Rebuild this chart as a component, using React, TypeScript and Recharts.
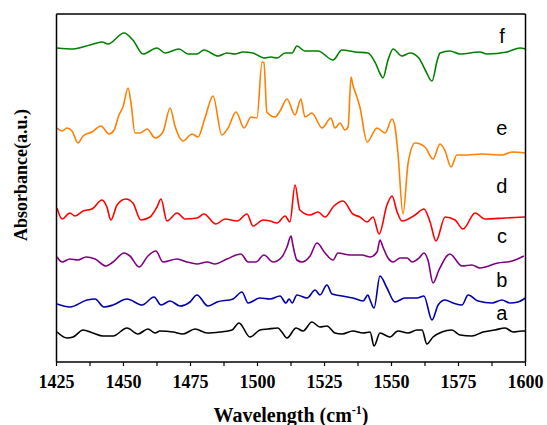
import { LineChart, Line, XAxis, YAxis } from 'recharts'

// wavelength (cm-1), absorbance (a.u., stacked offsets)
const specA = [
  [1425.2, 30], [1428.9, 24], [1431.2, 25], [1434.9, 32], [1438.6, 29], [1442.4, 26],
  [1446.1, 26], [1451.3, 34], [1455.4, 28], [1459.1, 33], [1461.8, 29], [1463.6, 31],
  [1468.5, 30], [1472.2, 28], [1476.7, 33], [1481.2, 29], [1486.0, 30], [1490.5, 32],
  [1493.1, 39], [1497.2, 25], [1500.9, 32], [1503.9, 33], [1507.6, 34], [1509.1, 30],
  [1511.0, 24], [1514.4, 34], [1517.0, 31], [1520.3, 40], [1523.3, 35], [1525.9, 36],
  [1528.9, 29], [1531.5, 28], [1535.6, 31], [1539.4, 29], [1542.0, 30], [1543.5, 16],
  [1545.7, 29], [1549.4, 25], [1552.4, 31], [1556.2, 29], [1559.5, 32], [1561.4, 32],
  [1563.2, 18], [1565.5, 25], [1568.8, 30], [1572.5, 32], [1575.6, 27], [1580.0, 26],
  [1584.1, 30], [1588.6, 32], [1592.4, 34], [1595.4, 30], [1598.7, 31], [1600, 31]
]

const specB = [
  [1425.2, 58], [1430.0, 55], [1436.4, 62], [1439.4, 63], [1442.7, 55], [1446.1, 57],
  [1451.3, 63], [1456.9, 57], [1461.4, 65], [1464.0, 57], [1467.4, 61], [1471.1, 56],
  [1474.8, 60], [1477.4, 67], [1481.5, 56], [1484.9, 60], [1490.9, 63], [1494.2, 70],
  [1496.5, 59], [1500.9, 64], [1504.7, 63], [1508.4, 66], [1510.6, 59], [1511.8, 63],
  [1512.9, 59], [1514.7, 67], [1518.5, 64], [1521.5, 72], [1523.3, 67], [1525.9, 77],
  [1527.8, 68], [1531.5, 66], [1535.6, 64], [1539.4, 61], [1541.2, 67], [1542.0, 62],
  [1543.5, 54], [1545.7, 86], [1548.3, 74], [1551.3, 60], [1555.0, 64], [1559.5, 64],
  [1562.1, 66], [1565.1, 42], [1567.4, 57], [1570.0, 62], [1573.0, 59], [1576.3, 57],
  [1578.6, 67], [1582.3, 61], [1587.5, 59], [1591.2, 62], [1594.2, 59], [1597.2, 60],
  [1600, 64]
]

const specC = [
  [1425.2, 105], [1427.1, 100], [1430.0, 103], [1433.0, 102], [1436.0, 105], [1439.4, 103],
  [1443.5, 96], [1446.1, 100], [1450.2, 109], [1452.4, 106], [1455.8, 95], [1459.1, 106],
  [1462.1, 111], [1464.7, 100], [1470.0, 103], [1473.7, 100], [1477.4, 98], [1481.2, 100],
  [1484.1, 98], [1488.6, 103], [1493.8, 108], [1496.5, 100], [1499.4, 100], [1502.4, 107],
  [1505.8, 100], [1509.1, 105], [1511.0, 115], [1512.5, 126], [1513.2, 117], [1514.7, 102],
  [1516.6, 100], [1519.6, 106], [1522.2, 119], [1525.2, 109], [1528.2, 102], [1530.0, 109],
  [1534.5, 107], [1539.0, 107], [1542.0, 105], [1544.6, 110], [1545.7, 122], [1546.8, 115],
  [1548.7, 104], [1550.6, 100], [1553.2, 104], [1555.8, 104], [1557.7, 100], [1560.3, 104],
  [1562.1, 109], [1563.6, 102], [1565.5, 79], [1567.7, 92], [1571.8, 108], [1576.3, 96],
  [1580.0, 97], [1583.0, 94], [1589.7, 99], [1595.0, 101], [1599.4, 106]
]

const specD = [
  [1425.2, 154], [1427.1, 143], [1430.0, 149], [1431.9, 146], [1434.9, 151], [1438.2, 153],
  [1442.0, 162], [1443.8, 155], [1445.3, 142], [1447.6, 157], [1450.9, 163], [1453.5, 159],
  [1456.5, 142], [1459.9, 145], [1462.5, 155], [1464.0, 163], [1466.2, 141], [1470.0, 149],
  [1473.0, 143], [1477.4, 144], [1480.0, 148], [1484.5, 138], [1487.9, 143], [1492.4, 141],
  [1496.1, 148], [1498.3, 136], [1502.1, 142], [1504.7, 141], [1507.3, 139], [1510.3, 146],
  [1512.1, 140], [1514.0, 177], [1515.8, 152], [1519.6, 147], [1522.6, 150], [1525.2, 145],
  [1528.5, 156], [1531.9, 161], [1535.6, 148], [1538.2, 145], [1540.9, 140], [1543.1, 145],
  [1545.4, 128], [1548.3, 157], [1550.2, 166], [1552.1, 150], [1553.9, 141], [1558.8, 147],
  [1562.1, 153], [1564.4, 140], [1566.6, 121], [1570.0, 145], [1573.7, 142], [1576.7, 133],
  [1581.2, 149], [1584.9, 143], [1592.4, 144], [1599.8, 145]
]

const specE = [
  [1425.2, 234], [1427.1, 231], [1428.9, 234], [1430.8, 231], [1433.0, 219], [1434.9, 226],
  [1438.2, 230], [1441.6, 236], [1444.6, 228], [1446.5, 232], [1448.3, 247], [1449.8, 255],
  [1451.7, 274], [1452.8, 259], [1454.3, 229], [1456.2, 229], [1458.8, 233], [1461.8, 224],
  [1464.7, 230], [1467.4, 254], [1469.2, 236], [1472.2, 221], [1475.6, 228], [1477.8, 225],
  [1480.4, 244], [1483.4, 266], [1486.7, 227], [1489.0, 234], [1492.0, 250], [1495.0, 234],
  [1497.6, 245], [1499.8, 244], [1501.7, 300], [1502.4, 299], [1503.5, 250], [1506.5, 245],
  [1508.4, 251], [1511.0, 263], [1514.0, 247], [1516.2, 263], [1517.7, 245], [1520.3, 249],
  [1524.1, 234], [1527.4, 244], [1528.9, 234], [1530.8, 239], [1532.6, 232], [1533.8, 235],
  [1534.9, 285], [1535.6, 277], [1537.1, 265], [1538.2, 255], [1540.9, 220], [1544.6, 234],
  [1547.6, 229], [1550.2, 243], [1551.3, 235], [1552.4, 209], [1554.3, 148], [1556.2, 199],
  [1558.8, 219], [1562.5, 215], [1565.5, 203], [1568.1, 218], [1570.0, 211], [1572.2, 195],
  [1574.4, 207], [1577.4, 207], [1583.8, 208], [1591.2, 207], [1595.0, 210], [1600, 209]
]

const specF = [
  [1425.2, 314], [1431.2, 313], [1437.5, 317], [1442.0, 320], [1444.2, 318], [1450.2, 329],
  [1453.5, 322], [1457.3, 308], [1462.5, 314], [1465.5, 309], [1470.7, 313], [1474.1, 308],
  [1477.4, 308], [1480.0, 312], [1485.3, 306], [1488.6, 309], [1491.6, 308], [1494.6, 310],
  [1498.3, 309], [1502.4, 304], [1505.0, 305], [1507.3, 304], [1510.3, 309], [1512.9, 309],
  [1514.7, 316], [1517.7, 311], [1522.6, 311], [1528.2, 302], [1531.5, 312], [1536.4, 310],
  [1541.2, 309], [1544.0, 299], [1545.8, 288], [1546.8, 284], [1548.7, 302], [1550.6, 313],
  [1553.9, 306], [1556.9, 309], [1560.2, 304], [1562.6, 292], [1565.1, 281], [1567.1, 302],
  [1568.1, 309], [1571.8, 311], [1575.6, 308], [1583.0, 310], [1585.6, 308], [1593.1, 310],
  [1598.0, 314], [1600, 313]
]

const seriesNames = ['a', 'b', 'c', 'd', 'e', 'f']
const seriesColors = ['#000000', '#0000a8', '#800080', '#ff0000', '#ff8000', '#008000']
const allSpectra = [specA, specB, specC, specD, specE, specF]

// label baselines next to each curve (absorbance units)
const labelLevels = [42, 75, 119, 169, 227, 319]

const xTicks = [
  1425, 1437.5, 1450, 1462.5, 1475, 1487.5, 1500, 1512.5, 1525, 1537.5, 1550, 1562.5,
  1575, 1587.5, 1600
]
const yTicks = Array.from({ length: 35 }, (_, i) => 348 - i * 10.2)

const W = 547
const H = 425
const plotLeft = 56.5
const plotRight = 525.5
const plotTop = 14
const plotBottom = 362

const serif = '"Times New Roman", "Liberation Serif", Times, "DejaVu Serif", serif'
const frame = { stroke: '#000', strokeWidth: 1.5 }
const tickStroke = { stroke: '#000', strokeWidth: 1.2 }

export default function App() {
  const toPx = (v: number) => plotBottom - ((plotBottom - plotTop) * v) / 348
  const xPx = (w: number) =>
    plotLeft + ((plotRight - plotLeft) * (w - 1425)) / 175

  return (
    <div style={{ position: 'absolute', left: 0, top: 0, width: W, height: H, background: '#fff' }}>
      <LineChart
        width={W}
        height={H}
        margin={{ top: plotTop, right: W - plotRight - 6, left: plotLeft, bottom: 0 }}
      >
        <XAxis
          xAxisId='b'
          type='number'
          dataKey='x'
          domain={[1425, 1600]}
          ticks={xTicks}
          allowDataOverflow
          height={H - plotBottom}
          tickSize={4}
          tickMargin={9}
          axisLine={frame}
          tickLine={tickStroke}
          tick={{ fill: '#000', fontSize: 18, fontWeight: 'bold', fontFamily: serif, style: { fontFamily: serif } }}
          tickFormatter={(v: number) => (v % 25 === 0 ? String(v) : '')}
          interval={0}
        />
        <XAxis
          xAxisId='t'
          orientation='top'
          type='number'
          dataKey='x'
          domain={[1425, 1600]}
          ticks={xTicks}
          allowDataOverflow
          mirror
          height={1}
          tickSize={3}
          tick={false}
          interval={0}
          axisLine={frame}
          tickLine={tickStroke}
        />
        <YAxis
          yAxisId='l'
          type='number'
          domain={[0, 348]}
          ticks={yTicks}
          allowDataOverflow
          mirror
          width={1}
          tickSize={3}
          tick={false}
          interval={0}
          axisLine={frame}
          tickLine={tickStroke}
        />
        <YAxis
          yAxisId='r'
          orientation='right'
          type='number'
          domain={[0, 348]}
          ticks={yTicks}
          allowDataOverflow
          width={6}
          tickSize={3}
          tick={false}
          interval={0}
          axisLine={frame}
          tickLine={tickStroke}
        />
        {allSpectra.map((spec, i) => (
          <Line
            key={seriesNames[i]}
            xAxisId='b'
            yAxisId='l'
            data={spec.map(([x, y]) => ({ x, y }))}
            dataKey='y'
            type='monotone'
            stroke={seriesColors[i]}
            strokeWidth={1.6}
            dot={false}
            isAnimationActive={false}
          />
        ))}
        {/* invisible copy so the top and right frame axes get a scale */}
        <Line
          xAxisId='t'
          yAxisId='r'
          data={specA.map(([x, y]) => ({ x, y }))}
          dataKey='y'
          stroke='none'
          dot={false}
          activeDot={false}
          isAnimationActive={false}
        />
      </LineChart>
      <svg
        width={W}
        height={H}
        style={{ position: 'absolute', left: 0, top: 0, pointerEvents: 'none' }}
      >
        {seriesNames.map((n, i) => (
          <text
            key={n}
            x={xPx(1591.2)}
            y={toPx(labelLevels[i])}
            textAnchor='middle'
            style={{ fontFamily: '"Liberation Sans", Arial, sans-serif', fontSize: 20 }}
            fill='#000'
          >
            {n}
          </text>
        ))}
        <text
          x={291}
          y={422}
          textAnchor='middle'
          style={{ fontFamily: serif, fontWeight: 'bold', fontSize: 20 }}
          fill='#000'
        >
          Wavelength (cm
          <tspan style={{ fontSize: 12 }} dy={-8}>
            -1
          </tspan>
          <tspan dy={8}>)</tspan>
        </text>
        <text
          x={0}
          y={0}
          transform='translate(27,175) rotate(-90)'
          textAnchor='middle'
          style={{ fontFamily: serif, fontWeight: 'bold', fontSize: 18 }}
          fill='#000'
        >
          Absorbance(a.u.)
        </text>
      </svg>
    </div>
  )
}
